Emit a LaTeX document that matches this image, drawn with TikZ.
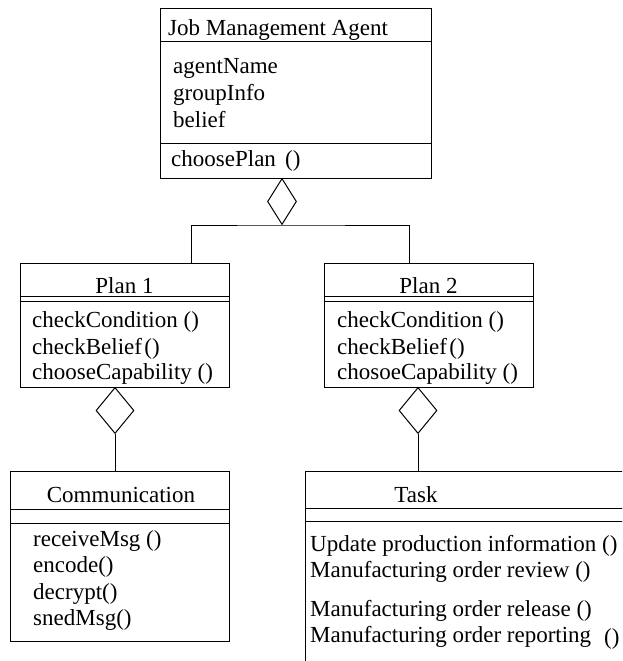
\documentclass[tikz,border=0pt]{standalone}
\usepackage{fontspec}
\setmainfont{Liberation Serif}
\usetikzlibrary{shapes.geometric}
\begin{document}
\begin{tikzpicture}[x=1pt,y=-1pt,
  box/.style={draw, line width=1pt, rectangle, inner sep=0pt, anchor=north west},
  agg/.style={draw, line width=1pt, diamond, inner sep=0pt, minimum width=38pt, minimum height=46pt, anchor=north},
  lbl/.style={anchor=base west, inner sep=0pt, font=\fontsize{23}{26}\selectfont},
  ttl/.style={anchor=base, inner sep=0pt, font=\fontsize{23}{26}\selectfont},
  sep/.style={line width=1pt},
  link/.style={line width=1pt}]
\useasboundingbox (0,0) rectangle (622,661);
\clip (0,0) rectangle (622,661);

% Job Management Agent class
\node[box, minimum width=271pt, minimum height=170pt, line width=1.4pt] (jma) at (160,8) {};
\draw[sep] ([yshift=-34pt]jma.north west) -- ([yshift=-34pt]jma.north east);
\draw[sep] ([yshift=36pt]jma.south west) -- ([yshift=36pt]jma.south east);
\node[lbl] (jmaT) at (168,36) {Job Management Agent};
\node[lbl] (a1) at (173,74) {agentName};
\node[lbl] (a2) at (173,100) {groupInfo};
\node[lbl] (a3) at (173,127) {belief};
\node[lbl] (m0) at (171,166) {choosePlan\hspace{0.15em} ()};

% aggregation of the two plans
\node[agg, minimum width=29pt] (d0) at (282,178) {};
\coordinate (j1) at (191,263);
\coordinate (j2) at (409,263);
\draw[link] (j1) |- (d0.south) -| (j2);

% Plan 1
\node[box, minimum width=209pt, minimum height=124pt] (p1) at (20,263) {};
\draw[sep] ([yshift=-33pt]p1.north west) -- ([yshift=-33pt]p1.north east);
\draw[sep] ([yshift=-38pt]p1.north west) -- ([yshift=-38pt]p1.north east);
\node[ttl] (p1T) at (124.5,293) {Plan 1};
\node[lbl] (p1a) at (32,327) {checkCondition ()};
\node[lbl] (p1b) at (32,354) {checkBelief\hspace{0.1em}()};
\node[lbl] (p1c) at (32,379) {chooseCapability ()};

% Plan 2
\node[box, minimum width=209pt, minimum height=124pt] (p2) at (324,263) {};
\draw[sep] ([yshift=-33pt]p2.north west) -- ([yshift=-33pt]p2.north east);
\draw[sep] ([yshift=-38pt]p2.north west) -- ([yshift=-38pt]p2.north east);
\node[ttl] (p2T) at (428.5,293) {Plan 2};
\node[lbl] (p2a) at (337,327) {checkCondition ()};
\node[lbl] (p2b) at (337,354) {checkBelief\hspace{0.1em}()};
\node[lbl] (p2c) at (337,379) {chosoeCapability ()};

% Communication
\node[agg] (d1) at (115,387) {};
\node[box, minimum width=219pt, minimum height=170pt] (comm) at (10,471) {};
\draw[link] (d1.south) -- (d1.south |- comm.north);
\draw[sep] ([yshift=-38pt]comm.north west) -- ([yshift=-38pt]comm.north east);
\draw[sep] ([yshift=-52pt]comm.north west) -- ([yshift=-52pt]comm.north east);
\node[ttl] (cT) at (121,502) {Communication};
\node[lbl] (c1) at (33,546) {receiveMsg ()};
\node[lbl] (c2) at (33,572) {encode()};
\node[lbl] (c3) at (33,599) {decrypt()};
\node[lbl] (c4) at (33,625) {snedMsg()};

% Task
\node[agg] (d2) at (418,387) {};
\node[box, minimum width=400pt, minimum height=250pt] (task) at (305,471) {};
\draw[link] (d2.south) -- (d2.south |- task.north);
\draw[sep] ([yshift=-37pt]task.north west) -- ([yshift=-37pt]task.north east);
\draw[sep] ([yshift=-50pt]task.north west) -- ([yshift=-50pt]task.north east);
\node[ttl] (tT) at (416,502) {Task};
\node[lbl] (t1) at (310,551) {Update production information ()};
\node[lbl] (t2) at (310,577) {Manufacturing order review ()};
\node[lbl] (t3) at (310,616) {Manufacturing order release ()};
\node[lbl] (t4) at (310,642) {Manufacturing order reporting};
\node[lbl] (t4p) at (604,644) {()};
\end{tikzpicture}
\end{document}
